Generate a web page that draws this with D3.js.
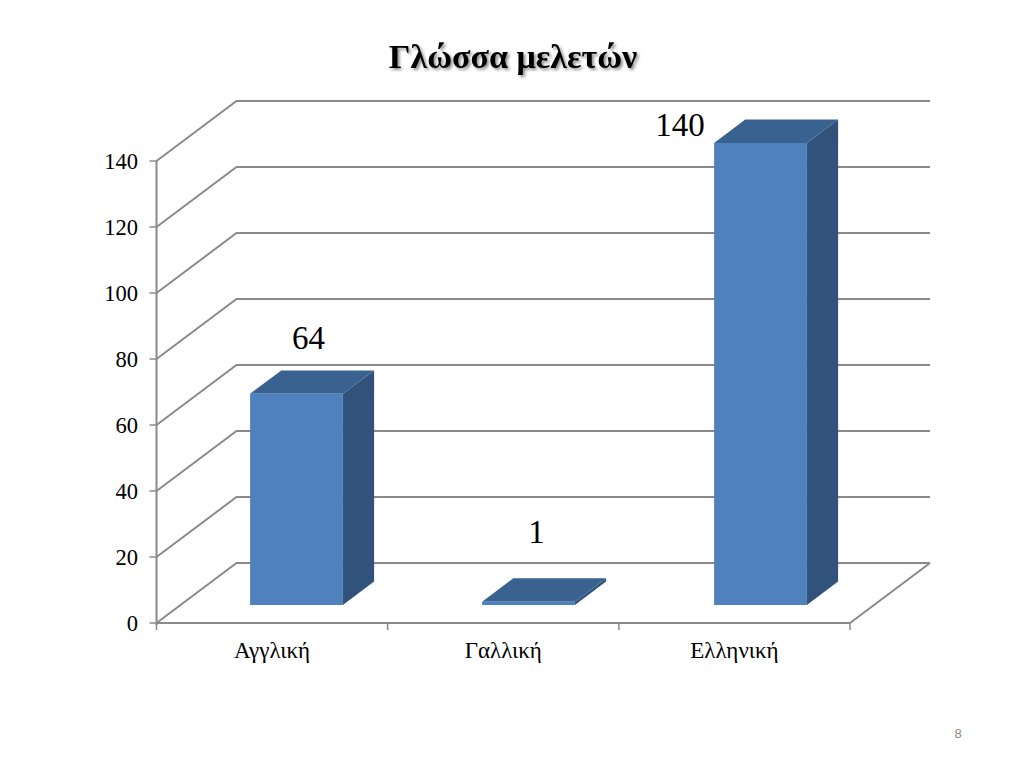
<!DOCTYPE html>
<html>
<head>
<meta charset="utf-8">
<script src="https://cdn.jsdelivr.net/npm/d3@7"></script>
<style>
html,body{margin:0;padding:0;background:#fff;}
svg{display:block;}
text{font-family:"Liberation Serif",serif;fill:#000;}
</style>
</head>
<body>
<svg id="c" width="1024" height="768"></svg>
<script>
const categories = ["Αγγλική", "Γαλλική", "Ελληνική"];
const values = [64, 1, 140];
const yTicks = [0, 20, 40, 60, 80, 100, 120, 140];
const chartTitle = "Γλώσσα μελετών";
const pageNumber = "8";

const svg = d3.select("#c");
const GRID = "#8a8a8a";

// Front plane scales
const x = d3.scaleBand().domain(categories).range([156.5, 850]).paddingInner(0).paddingOuter(0);
const xBar = d3.scaleBand().domain(categories).range([156.5, 852.5]).paddingInner(0).paddingOuter(0);
const y = d3.scaleLinear().domain([0, 140]).range([623, 161]);
// Depth projection: 0 = front plane, 1 = back wall
const dx = d3.scaleLinear().domain([0, 1]).range([0, 80]);
const dy = d3.scaleLinear().domain([0, 1]).range([0, -60]);
const px = (xv, d) => xv + dx(d);
const py = (v, d) => y(v) + dy(d);
const x0 = x.range()[0], x1 = x.range()[1];

const line = d3.line();

// Wall and side gridlines
const grid = svg.append("g").attr("fill", "none").attr("stroke", GRID).attr("stroke-width", 2);
grid.selectAll("path.g").data(yTicks).join("path").attr("class", "g")
  .attr("d", t => line([[px(x0, 0), py(t, 0)], [px(x0, 1), py(t, 1)], [px(x1, 1), py(t, 1)]]));
// Floor right edge and front edge
grid.append("path").attr("d", line([[px(x1, 1), py(0, 1)], [px(x1, 0), py(0, 0)]]));
grid.append("path").attr("d", line([[px(x0, 0), py(0, 0)], [px(x1, 0), py(0, 0)]]));
// Vertical axis
grid.append("path").attr("d", line([[x0, y(0) + 2], [x0, y(140)]]));
// Axis tick marks
const tickG = svg.append("g").attr("stroke", GRID).attr("stroke-width", 1.5);
tickG.selectAll("line.yt").data(yTicks).join("line").attr("class", "yt")
  .attr("x1", x0 - 7).attr("x2", x0).attr("y1", t => y(t)).attr("y2", t => y(t));
tickG.selectAll("line.xt").data(d3.range(categories.length + 1)).join("line").attr("class", "xt")
  .attr("x1", i => x0 + i * x.bandwidth()).attr("x2", i => x0 + i * x.bandwidth())
  .attr("y1", y(0)).attr("y2", y(0) + 7);

// Bars
const FRONT = "#4f81bd", SIDE = "#31527b", TOP = "#3a6291";
const dFront = 0.30, dBack = 0.69, barFrac = 0.40;
const barG = svg.append("g").selectAll("g").data(categories.map((c, i) => ({c, v: values[i]}))).join("g");
const bw = xBar.bandwidth() * barFrac;
const bx = d => xBar(d.c) + (xBar.bandwidth() - bw) / 2;
const poly = pts => pts.map(p => p.join(",")).join(" ");
barG.append("polygon").attr("fill", SIDE).attr("points", d => {
  const r = bx(d) + bw;
  return poly([[px(r, dFront), py(0, dFront)], [px(r, dBack), py(0, dBack)], [px(r, dBack), py(d.v, dBack)], [px(r, dFront), py(d.v, dFront)]]);
});
barG.append("polygon").attr("fill", TOP).attr("points", d => {
  const l = bx(d), r = l + bw;
  return poly([[px(l, dFront), py(d.v, dFront)], [px(l, dBack), py(d.v, dBack)], [px(r, dBack), py(d.v, dBack)], [px(r, dFront), py(d.v, dFront)]]);
});
barG.append("polygon").attr("fill", FRONT).attr("points", d => {
  const l = bx(d), r = l + bw;
  return poly([[px(l, dFront), py(0, dFront)], [px(r, dFront), py(0, dFront)], [px(r, dFront), py(d.v, dFront)], [px(l, dFront), py(d.v, dFront)]]);
});

// Value labels
const labelOffset = [[12, -45], [8, -59], [-80.5, -7]];
barG.append("text").attr("font-size", 33).attr("text-anchor", "middle")
  .attr("x", (d, i) => bx(d) + bw / 2 + dx(dFront) + labelOffset[i][0])
  .attr("y", (d, i) => py(d.v, dFront) + labelOffset[i][1])
  .text(d => d.v);

// Y tick labels
svg.append("g").selectAll("text").data(yTicks).join("text")
  .attr("x", 138).attr("y", t => y(t) + 7.5).attr("text-anchor", "end").attr("font-size", 22.5).text(t => t);

// Category labels
svg.append("g").selectAll("text").data(categories).join("text")
  .attr("x", c => x(c) + x.bandwidth() / 2).attr("y", 658).attr("text-anchor", "middle").attr("font-size", 23).text(c => c);

// Title
svg.append("text").attr("x", 513).attr("y", 68).attr("text-anchor", "middle")
  .attr("font-size", 34).attr("font-weight", "bold")
  .style("filter", "drop-shadow(2px 2px 1.5px rgba(0,0,0,0.45))").text(chartTitle);

// Page number
svg.append("text").attr("x", 958).attr("y", 738).attr("text-anchor", "middle")
  .attr("font-size", 13).style("font-family", "'Liberation Sans',sans-serif").style("fill", "#8a8a8a").text(pageNumber);
</script>
</body>
</html>
